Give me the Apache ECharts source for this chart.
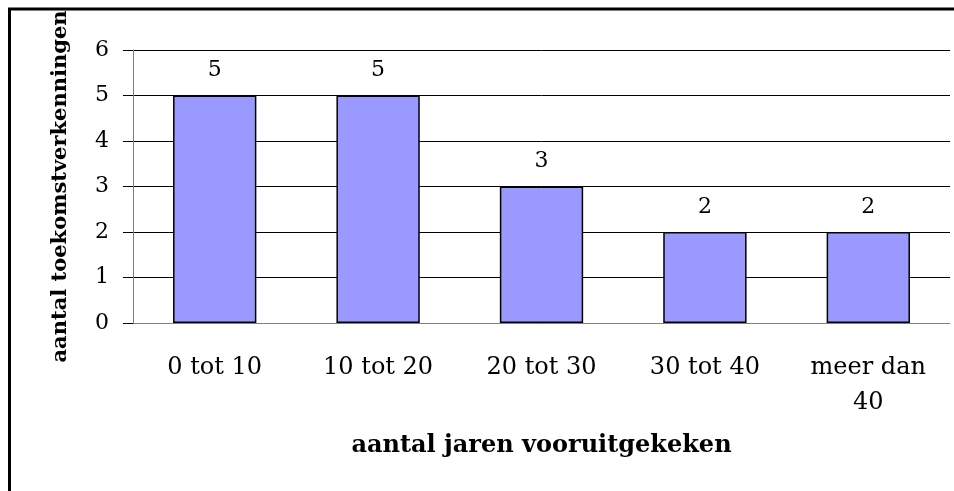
<!DOCTYPE html>
<html>
<head>
<meta charset="utf-8">
<script src="https://cdn.jsdelivr.net/npm/echarts@6/dist/echarts.min.js"></script>
<style>
    html, body { margin: 0; padding: 0; background: #fff; }
    #chart { width: 954px; height: 491px; }
</style>
</head>
<body>
<div id="chart"></div>
<script>
const categories = ['0 tot 10', '10 tot 20', '20 tot 30', '30 tot 40', 'meer dan\n40'];
const counts = [5, 5, 3, 2, 2];
const yTicks = [0, 1, 2, 3, 4, 5, 6];

const fontFamily = '"DejaVu Serif", "Liberation Serif", serif';

const chart = echarts.init(document.getElementById('chart'));
chart.setOption({
    animation: false,
    backgroundColor: '#fff',
    graphic: [
        {
            type: 'rect',
            shape: { x: 9.5, y: 9, width: 960, height: 500 },
            style: { fill: 'none', stroke: '#000', lineWidth: 3 },
            silent: true
        }
    ],
    grid: {
        left: 133,
        right: 4,
        top: 50,
        bottom: 168
    },
    xAxis: {
        type: 'category',
        data: categories,
        name: 'aantal jaren vooruitgekeken',
        nameLocation: 'middle',
        nameGap: 111,
        nameTextStyle: {
            fontFamily: fontFamily,
            fontWeight: 'bold',
            fontSize: 24,
            color: '#000'
        },
        axisLine: { lineStyle: { color: '#808080', width: 1 } },
        axisTick: { alignWithLabel: false, length: 8, lineStyle: { color: '#808080' } },
        axisLabel: {
            fontFamily: fontFamily,
            fontSize: 24,
            color: '#000',
            margin: 27,
            lineHeight: 35,
            interval: 0
        }
    },
    yAxis: {
        type: 'value',
        min: yTicks[0],
        max: yTicks[yTicks.length - 1],
        interval: 1,
        name: 'aantal toekomstverkenningen',
        nameLocation: 'middle',
        nameRotate: 90,
        nameGap: 62,
        nameTextStyle: {
            fontFamily: fontFamily,
            fontWeight: 'bold',
            fontSize: 21,
            color: '#000'
        },
        axisLine: { show: true, lineStyle: { color: '#808080', width: 1 } },
        axisTick: { show: true, length: 10, lineStyle: { color: '#000' } },
        axisLabel: {
            fontFamily: fontFamily,
            fontSize: 22,
            color: '#000',
            margin: 24
        },
        splitLine: { show: true, lineStyle: { color: '#000', width: 1 } }
    },
    series: [
        {
            type: 'bar',
            data: counts,
            barWidth: '51%',
            itemStyle: {
                color: '#9999FF',
                borderColor: '#000',
                borderWidth: 1.5
            },
            label: {
                show: true,
                position: 'top',
                distance: 14,
                fontFamily: fontFamily,
                fontSize: 22,
                color: '#000'
            }
        }
    ]
});
</script>
</body>
</html>
